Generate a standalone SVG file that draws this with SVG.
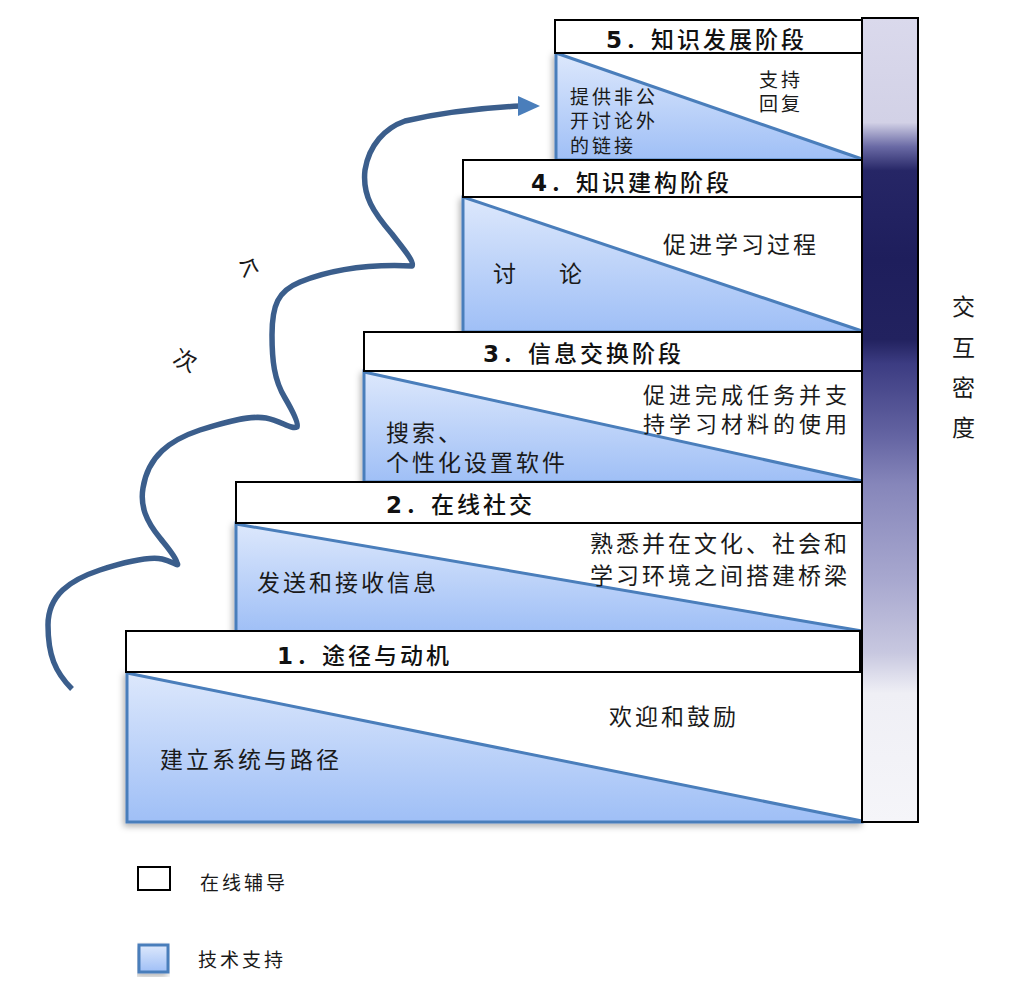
<svg xmlns="http://www.w3.org/2000/svg" width="1012" height="996" viewBox="0 0 1012 996">
<defs>
<linearGradient id="blue" x1="0" y1="0" x2="0" y2="1">
<stop offset="0" stop-color="#dde8fc"/>
<stop offset="1" stop-color="#9fbff6"/>
</linearGradient>
<linearGradient id="bar" x1="0" y1="0" x2="0" y2="1">
<stop offset="0" stop-color="#dad9ec"/>
<stop offset="0.13" stop-color="#d2d1e6"/>
<stop offset="0.16" stop-color="#6a6aa5"/>
<stop offset="0.19" stop-color="#262666"/>
<stop offset="0.30" stop-color="#1e1e5c"/>
<stop offset="0.40" stop-color="#22225f"/>
<stop offset="0.43" stop-color="#3c3c82"/>
<stop offset="0.52" stop-color="#6464a2"/>
<stop offset="0.58" stop-color="#8686ba"/>
<stop offset="0.70" stop-color="#a8a8cf"/>
<stop offset="0.79" stop-color="#c8c8e0"/>
<stop offset="0.84" stop-color="#efeff5"/>
<stop offset="1" stop-color="#f5f5f9"/>
</linearGradient>
<filter id="sh" x="-5%" y="-10%" width="110%" height="125%">
<feDropShadow dx="-2" dy="3" stdDeviation="3" flood-color="#000" flood-opacity="0.3"/>
</filter>
</defs>
<style>
.blue{fill:url(#blue);stroke:#4a7ebb;stroke-width:3;filter:url(#sh)}
.tri{fill:#fff;stroke:none}
.diag{stroke:#4a7ebb;stroke-width:3;fill:none}
.hdr{fill:#fff;stroke:#000;stroke-width:2}
.ht{font-family:"Noto Sans CJK SC","Noto Sans",sans-serif;font-size:23px;font-weight:500;fill:#111;letter-spacing:3px}
.ht .n{font-family:"DejaVu Sans","Noto Sans",sans-serif;font-weight:bold}
.t{font-family:"Noto Sans CJK SC",sans-serif;font-size:23px;fill:#1a1a1a;letter-spacing:3px}
.t2{font-family:"Noto Sans CJK SC",sans-serif;font-size:22px;fill:#1a1a1a;letter-spacing:4px}
.s{font-family:"Noto Sans CJK SC",sans-serif;font-size:19px;fill:#1a1a1a;letter-spacing:3px}
.wave{fill:none;stroke:#3b5e8c;stroke-width:5.5;stroke-linecap:butt;stroke-linejoin:round}
</style>

<g id="stage5">
<rect class="blue" x="556" y="53" width="306" height="107"/>
<polygon class="tri" points="557,53 861,53 861,158"/>
<line class="diag" x1="556" y1="53" x2="862" y2="159"/>
<rect class="hdr" x="555" y="20" width="307" height="33"/>
<text class="ht" x="606" y="48"><tspan class="n">5</tspan>．知识发展阶段</text>
<text class="s" x="570" y="104">提供非公</text>
<text class="s" x="570" y="128">开讨论外</text>
<text class="s" x="570" y="153">的链接</text>
<text class="s" x="759" y="87">支持</text>
<text class="s" x="759" y="111">回复</text>
</g>

<g id="stage4">
<rect class="blue" x="463" y="197" width="399" height="135"/>
<polygon class="tri" points="464,197 861,197 861,330"/>
<line class="diag" x1="463" y1="197" x2="862" y2="331"/>
<rect class="hdr" x="463" y="160" width="399" height="37"/>
<text class="ht" x="531" y="191"><tspan class="n">4</tspan>．知识建构阶段</text>
<text class="t" x="663" y="253">促进学习过程</text>
<text class="t" x="493" y="282">讨</text>
<text class="t" x="559" y="282">论</text>
</g>

<g id="stage3">
<rect class="blue" x="364" y="371" width="498" height="111"/>
<polygon class="tri" points="365,371 861,371 861,480"/>
<line class="diag" x1="364" y1="372" x2="862" y2="481"/>
<rect class="hdr" x="364" y="332" width="498" height="39"/>
<text class="ht" x="483" y="362"><tspan class="n">3</tspan>．信息交换阶段</text>
<text class="t2" x="643" y="403">促进完成任务并支</text>
<text class="t2" x="643" y="432">持学习材料的使用</text>
<text class="t" x="386" y="441">搜索、</text>
<text class="t" x="386" y="471">个性化设置软件</text>
</g>

<g id="stage2">
<rect class="blue" x="236" y="523" width="626" height="109"/>
<polygon class="tri" points="237,523 861,523 861,630"/>
<line class="diag" x1="236" y1="524" x2="862" y2="631"/>
<rect class="hdr" x="236" y="482" width="626" height="41"/>
<text class="ht" x="386" y="513"><tspan class="n">2</tspan>．在线社交</text>
<text class="t" x="590" y="552">熟悉并在文化、社会和</text>
<text class="t" x="590" y="584">学习环境之间搭建桥梁</text>
<text class="t" x="257" y="591">发送和接收信息</text>
</g>

<g id="stage1">
<rect class="blue" x="127" y="672" width="735" height="150"/>
<polygon class="tri" points="128,672 861,672 861,820"/>
<line class="diag" x1="127" y1="673" x2="862" y2="821"/>
<rect class="hdr" x="126" y="631" width="734" height="41"/>
<text class="ht" x="277" y="664"><tspan class="n">1</tspan>．途径与动机</text>
<text class="t" x="609" y="725">欢迎和鼓励</text>
<text class="t" x="160" y="768">建立系统与路径</text>
</g>

<g id="density-bar">
<rect x="862" y="18" width="56" height="804" fill="url(#bar)" stroke="#000" stroke-width="2"/>
<text class="t" x="952" y="315">交</text>
<text class="t" x="952" y="356">互</text>
<text class="t" x="952" y="396">密</text>
<text class="t" x="952" y="436">度</text>
</g>

<g id="connectors">
<path class="wave" d="M72,689 C55,672 48,655 48,625 C48,595 70,580 100,570 C125,562 148,556 162,559 C172,561 180,568 177,563 C176,557 168,548 160,538 C146,521 140,506 143,488 C148,456 170,440 200,430 C225,422 250,415 266,418 C281,421 292,430 297,427 C299,423 292,410 285,398 C274,380 272,360 272,335 C272,305 278,291 300,282 C330,270 370,264 412,266 C415,262 402,247 392,234 C374,213 362,196 365,170 C369,145 385,128 405,121 C440,113 480,108 520,106"/>
<polygon points="518,96 540,106 518,116" fill="#4a7ebb"/>
<text class="t" x="237" y="277" transform="rotate(25 249 268)">个</text>
<text class="t" x="174" y="369" transform="rotate(25 186 360)">次</text>
</g>

<g id="legend">
<rect x="138" y="867" width="32" height="23" fill="#fff" stroke="#000" stroke-width="2"/>
<text class="s" x="200" y="890">在线辅导</text>
<rect x="139" y="945" width="29" height="27" fill="url(#blue)" stroke="#4a7ebb" stroke-width="3" filter="url(#sh)"/>
<text class="s" x="198" y="967">技术支持</text>
</g>
</svg>
